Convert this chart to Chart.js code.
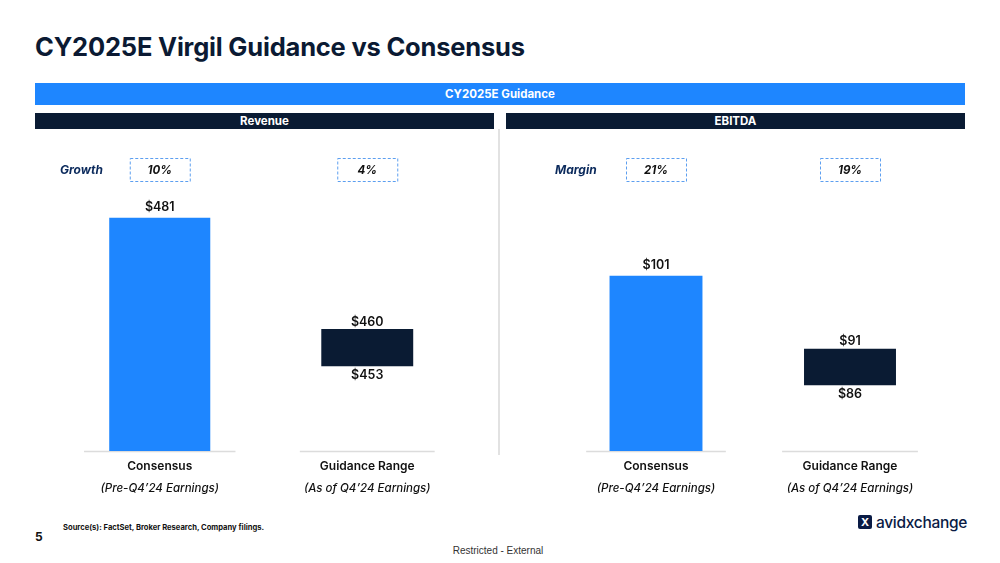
<!DOCTYPE html>
<html>
<head>
<meta charset="utf-8">
<script src="https://cdn.jsdelivr.net/npm/chart.js@4.4.1/dist/chart.umd.min.js"></script>
<style>
  body { margin: 0; width: 1000px; height: 563px; background: #fff; position: relative; overflow: hidden; font-family: Inter, "Open Sans", sans-serif; }
  .abs { position: absolute; }
  #title { left: 35px; top: 31px; font-size: 25.5px; font-weight: 700; color: #0b1a33; letter-spacing: -0.2px; }
  #guideBar { left: 35px; top: 83px; width: 930px; height: 22px; background: #1e86ff; color: #fff; font-size: 11.5px; font-weight: 700; text-align: center; line-height: 22px; }
  .head { top: 113px; height: 16px; background: #0a1b33; color: #fff; font-size: 11.5px; font-weight: 700; text-align: center; line-height: 16px; }
  #divider { left: 498px; top: 129px; width: 2px; height: 326px; background: #e2e2e2; }
  canvas { position: absolute; }
  #pageNo { left: 35px; top: 529px; font-size: 12px; font-weight: 700; color: #111; }
  #source { left: 63px; top: 523px; font-size: 7.6px; font-weight: 700; color: #111; }
  #restricted { left: 0; width: 996px; top: 545px; text-align: center; font-family: "Liberation Sans", sans-serif; font-size: 10px; color: #333; }
  #logo { left: 858px; top: 513px; height: 18px; display: flex; align-items: center; }
  #logo .ico { width: 14px; height: 14px; background: #0a1b45; color: #fff; font-size: 11px; font-weight: 700; line-height: 14px; text-align: center; border-radius: 2px; margin-right: 4px; }
  #logo .txt { font-size: 15.5px; font-weight: 500; color: #0a1b45; letter-spacing: -0.3px; }
</style>
</head>
<body>
<div id="title" class="abs">CY2025E Virgil Guidance vs Consensus</div>
<div id="guideBar" class="abs">CY2025E Guidance</div>
<div class="abs head" style="left:35px;width:459px;">Revenue</div>
<div class="abs head" style="left:506px;width:459px;">EBITDA</div>
<div id="divider" class="abs"></div>
<canvas id="revChart" style="left:35px;top:135px;width:460px;height:370px;"></canvas>
<canvas id="ebitdaChart" style="left:506px;top:135px;width:460px;height:370px;"></canvas>
<div id="source" class="abs">Source(s): FactSet, Broker Research, Company filings.</div>
<div id="pageNo" class="abs">5</div>
<div id="restricted" class="abs">Restricted - External</div>
<div id="logo" class="abs"><div class="ico">X</div><div class="txt">avidxchange</div></div>

<script>
// Chart data
const categories = ["Consensus", "Guidance Range"];
const subLabels = ["(Pre-Q4’24 Earnings)", "(As of Q4’24 Earnings)"];
const revenueConsensus = [481, null];
const revenueGuidance = [null, [453, 460]];
const revenueGrowth = ["10%", "4%"];
const ebitdaConsensus = [101, null];
const ebitdaGuidance = [null, [86, 91]];
const ebitdaMargin = ["21%", "19%"];

const BLUE = "#1e86ff";
const NAVY = "#0a1b33";
const FONT = "Inter, 'Open Sans', sans-serif";

// Draws row labels, value labels, base segments and category text
const panelDecor = {
    id: "panelDecor",
    beforeDatasetsDraw(chart, args, opts) {
        const ctx = chart.ctx;
        const x = chart.scales.x;
        const bottom = chart.chartArea.bottom;
        const step = x.getPixelForValue(1) - x.getPixelForValue(0);
        ctx.save();
        ctx.strokeStyle = "#dcdcdc";
        ctx.lineWidth = 1.5;
        categories.forEach((c, i) => {
            const cx = x.getPixelForValue(i);
            const half = step * opts.lineFrac[i] / 2;
            ctx.beginPath();
            ctx.moveTo(cx - half, bottom + 0.5);
            ctx.lineTo(cx + half, bottom + 0.5);
            ctx.stroke();
        });
        ctx.restore();
    },
    afterDatasetsDraw(chart, args, opts) {
        const ctx = chart.ctx;
        const x = chart.scales.x;
        const bottom = chart.chartArea.bottom;
        ctx.save();
        ctx.textAlign = "center";

        // value labels
        ctx.fillStyle = "#111";
        ctx.font = `600 12.5px ${FONT}`;
        chart.data.datasets.forEach((ds, di) => {
            const meta = chart.getDatasetMeta(di);
            meta.data.forEach((bar, i) => {
                const v = ds.data[i];
                if (v === null) return;
                if (Array.isArray(v)) {
                    ctx.textBaseline = "bottom";
                    ctx.fillText("$" + v[1], bar.x, bar.y - 1);
                    ctx.textBaseline = "top";
                    ctx.fillText("$" + v[0], bar.x, bar.base + 3);
                } else {
                    ctx.textBaseline = "bottom";
                    ctx.fillText("$" + v, bar.x, bar.y - 4);
                }
            });
        });

        // category labels
        categories.forEach((c, i) => {
            const cx = x.getPixelForValue(i);
            ctx.textBaseline = "middle";
            ctx.fillStyle = "#111";
            ctx.font = `600 12px ${FONT}`;
            ctx.fillText(c, cx, bottom + 15);
            ctx.font = `italic 500 11.5px ${FONT}`;
            ctx.fillText(subLabels[i], cx, bottom + 38);
        });

        // growth / margin row
        const rowY = 35;
        ctx.font = `italic 700 12px ${FONT}`;
        ctx.fillStyle = "#0b2a5c";
        ctx.textBaseline = "middle";
        ctx.textAlign = "left";
        ctx.fillText(opts.rowLabel, opts.rowLabelX, rowY);
        ctx.textAlign = "center";
        opts.rowValues.forEach((t, i) => {
            const cx = x.getPixelForValue(i);
            ctx.strokeStyle = "#5c9ff0";
            ctx.lineWidth = 1;
            ctx.setLineDash([3, 2]);
            ctx.strokeRect(cx - 30 + 0.5, rowY - 11.5, 60, 23);
            ctx.setLineDash([]);
            ctx.fillStyle = "#111";
            ctx.font = `italic 700 11.5px ${FONT}`;
            ctx.fillText(t, cx, rowY + 0.5);
        });
        ctx.restore();
    }
};

function makePanel(id, consensus, guidance, yMin, yMax, pad, widths, decor) {
    new Chart(document.getElementById(id), {
        type: "bar",
        data: {
            labels: categories,
            datasets: [
                { data: consensus, backgroundColor: BLUE, grouped: false, barPercentage: widths[0], categoryPercentage: 1 },
                { data: guidance, backgroundColor: NAVY, grouped: false, barPercentage: widths[1], categoryPercentage: 1 }
            ]
        },
        options: {
            responsive: false,
            animation: false,
            layout: { padding: pad },
            scales: {
                x: { display: false },
                y: { display: false, min: yMin, max: yMax }
            },
            plugins: {
                legend: { display: false },
                tooltip: { enabled: false },
                panelDecor: decor
            }
        },
        plugins: [panelDecor]
    });
}

makePanel("revChart", revenueConsensus, revenueGuidance, 437, 490,
    { left: 21, right: 24, top: 35, bottom: 54 }, [0.487, 0.443],
    { rowLabel: "Growth", rowLabelX: 25, rowValues: revenueGrowth, lineFrac: [0.73, 0.65] });

makePanel("ebitdaChart", ebitdaConsensus, ebitdaGuidance, 77, 115.5,
    { left: 53, right: 19, top: 35, bottom: 54 }, [0.479, 0.474],
    { rowLabel: "Margin", rowLabelX: 49, rowValues: ebitdaMargin, lineFrac: [0.72, 0.70] });
</script>
</body>
</html>
